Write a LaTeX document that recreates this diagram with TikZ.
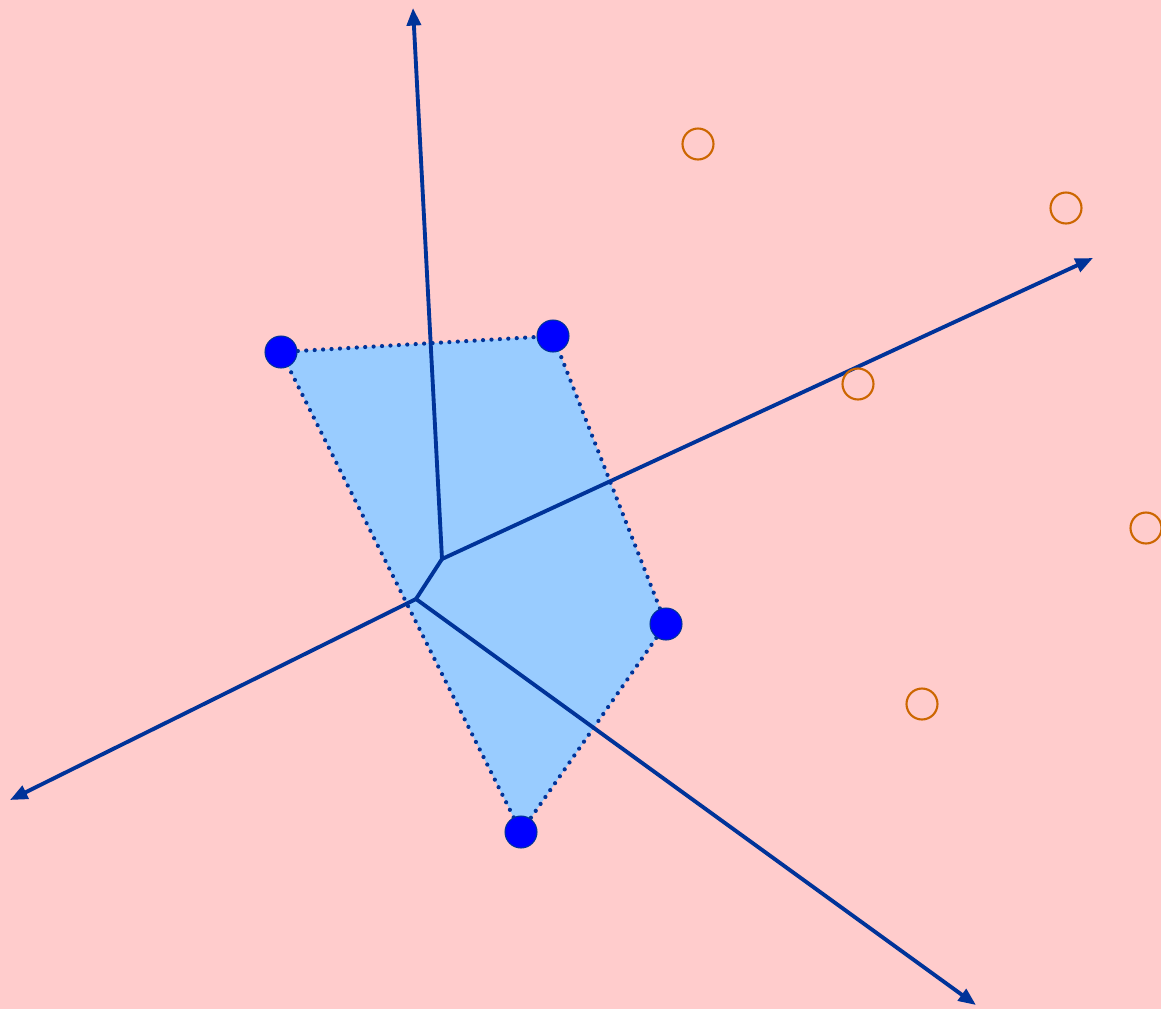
\documentclass[tikz,border=0pt]{standalone}
\usepackage{tikz}
\usetikzlibrary{arrows.meta}

\definecolor{bgpink}{HTML}{FFCCCC}
\definecolor{cellblue}{HTML}{99CCFF}
\definecolor{edgeblue}{HTML}{003399}
\definecolor{siteblue}{HTML}{0000FF}
\definecolor{otherorange}{HTML}{CC6600}

\begin{document}
\begin{tikzpicture}[
    x=0.02cm, y=-0.02cm,
    >={Triangle[length=10pt, width=8pt]},
    site/.style={circle, draw=edgeblue, line width=0.6pt, fill=siteblue, minimum size=0.64cm, inner sep=0pt},
    othersite/.style={circle, draw=otherorange, line width=1.2pt, minimum size=0.62cm, inner sep=0pt},
    hull/.style={draw=edgeblue, line width=2.4pt, line cap=round, dash pattern=on 0pt off 4.8pt, fill=cellblue},
    vedge/.style={draw=edgeblue, line width=2.2pt},
    ray/.style={vedge, ->},
]

% ---- Background ----
\useasboundingbox (0,0) rectangle (1161,1009);
\fill[bgpink] (0,0) rectangle (1161,1009);

% ---- Sites of the cell ----
\coordinate (a) at (281,352);
\coordinate (b) at (553,336);
\coordinate (c) at (666,624);
\coordinate (d) at (521,832);

\path[hull] (a) -- (b) -- (c) -- (d) -- cycle;

% ---- Voronoi edges ----
\coordinate (v1) at (442,559);
\coordinate (v2) at (416,599);
\coordinate (up) at (413,8);
\coordinate (ne) at (1093,258);
\coordinate (sw) at (10,800);
\coordinate (se) at (976,1005);

\draw[vedge] (v1) -- (v2);
\draw[ray] (v1) -- (up);
\draw[ray] (v1) -- (ne);
\draw[ray] (v2) -- (sw);
\draw[ray] (v2) -- (se);

\node[site] (pa) at (a) {};
\node[site] (pb) at (b) {};
\node[site] (pc) at (c) {};
\node[site] (pd) at (d) {};

% ---- Other sites ----
\node[othersite] (o1) at (698,144) {};
\node[othersite] (o2) at (1066,208) {};
\node[othersite] (o3) at (858,384) {};
\node[othersite] (o4) at (1146,528) {};
\node[othersite] (o5) at (922,704) {};

\end{tikzpicture}
\end{document}
